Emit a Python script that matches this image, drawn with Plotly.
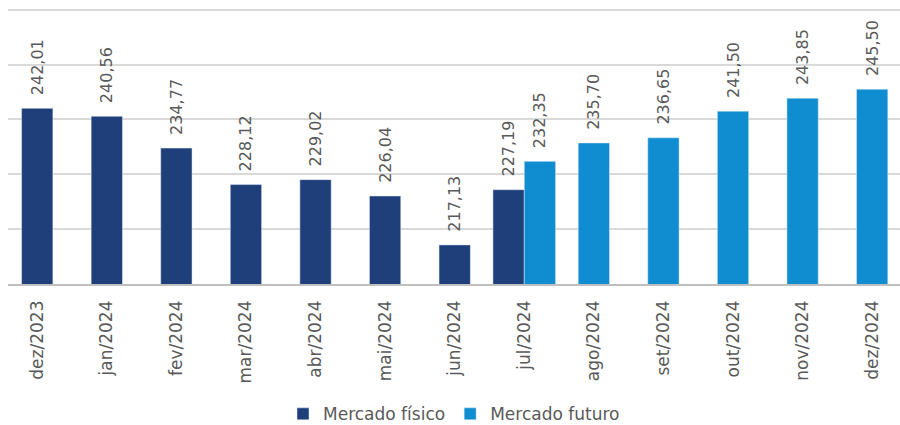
"""Preço mensal: mercado físico e mercado futuro."""

import plotly.graph_objects as go

MONTHS = [
    "dez/2023", "jan/2024", "fev/2024", "mar/2024", "abr/2024", "mai/2024",
    "jun/2024", "jul/2024", "ago/2024", "set/2024", "out/2024", "nov/2024",
    "dez/2024",
]
FISICO_MONTHS = MONTHS[:8]
FISICO_VALUES = [242.01, 240.56, 234.77, 228.12, 229.02, 226.04, 217.13, 227.19]
FUTURO_MONTHS = MONTHS[7:]
FUTURO_VALUES = [232.35, 235.70, 236.65, 241.50, 243.85, 245.50]

DARK = "#1F3F7A"
LIGHT = "#0F8DD0"
GREY_TEXT = "#595959"
FONT = "DejaVu Sans"
BAR_W = 0.45
SHARED = "jul/2024"


def _offsets(months, shared_offset):
    """Bars sit centred on their month, except the shared month where they pair up."""
    return [shared_offset if m == SHARED else -BAR_W / 2 for m in months]


def _add_series(fig, months, values, name, color, shared_offset):
    """Add one bar series with rotated value labels above the bars."""
    fig.add_bar(
        x=months,
        y=values,
        name=name,
        marker_color=color,
        width=BAR_W,
        offset=_offsets(months, shared_offset),
        texttemplate="  %{y:.2f}",
        textposition="outside",
        textangle=-90,
        constraintext="none",
        textfont={"family": FONT, "size": 16, "color": GREY_TEXT},
        cliponaxis=False,
    )


fig = go.Figure()
_add_series(fig, FISICO_MONTHS, FISICO_VALUES, "Mercado físico", DARK, -BAR_W)
_add_series(fig, FUTURO_MONTHS, FUTURO_VALUES, "Mercado futuro", LIGHT, 0)

fig.update_layout(
    width=900,
    height=425,
    barmode="overlay",
    separators=",.",
    paper_bgcolor="white",
    plot_bgcolor="white",
    font={"family": FONT, "color": GREY_TEXT},
    margin={"l": 8, "r": 0, "t": 8, "b": 141, "autoexpand": False},
    showlegend=True,
    legend={
        "orientation": "h",
        "x": 0.5,
        "xanchor": "center",
        "y": -0.472,
        "yanchor": "middle",
        "font": {"size": 17, "color": GREY_TEXT},
        "traceorder": "normal",
    },
)

fig.update_xaxes(
    type="category",
    categoryorder="array",
    categoryarray=MONTHS,
    range=[-0.42, 12.4],
    tickangle=-90,
    tickfont={"size": 17, "color": GREY_TEXT},
    ticklabelstandoff=8,
    automargin=False,
    showline=True,
    linecolor="#BFBFBF",
    linewidth=1.5,
    showgrid=False,
    ticks="",
)

# a hair above 260 so the top grid line is still drawn
fig.update_yaxes(
    range=[210, 260.3],
    dtick=10,
    showticklabels=False,
    automargin=False,
    gridcolor="#D9D9D9",
    gridwidth=1.5,
    zeroline=False,
)

# the page's default body margin would shift the figure by 8 px
fig.write_html(
    "out.html",
    config={"displayModeBar": False},
    post_script="document.body.style.margin = '0';",
)
